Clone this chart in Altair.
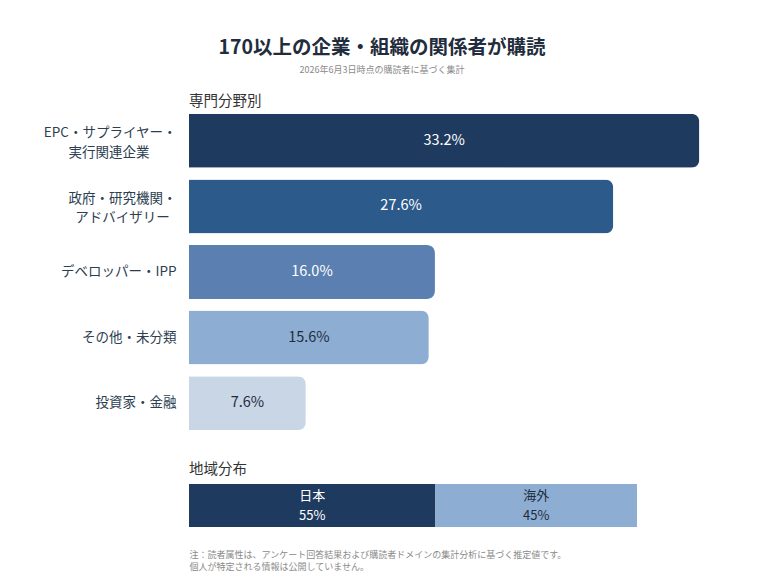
import altair as alt
import pandas as pd

FONT = "Noto Sans CJK JP"

# --- data ---
categories = [
    "EPC・サプライヤー・|実行関連企業\u3000\u3000\u2060",
    "政府・研究機関・|アドバイザリー\u2002\u2060",
    "デベロッパー・IPP",
    "その他・未分類",
    "投資家・金融",
]
shares = [33.2, 27.6, 16.0, 15.6, 7.6]
bar_palette = ["#1f3a5f", "#2c5a8a", "#5a7fb0", "#8daed2", "#c8d6e6"]

regions = ["日本", "海外"]
region_shares = [55, 45]
region_order = [0, 1]
region_palette = ["#1f3a5f", "#8daed2"]

footnote = [
    "注：読者属性は、アンケート回答結果および購読者ドメインの集計分析に基づく推定値です。",
    "個人が特定される情報は公開していません。",
]

# --- top chart: field breakdown ---
df = pd.DataFrame({"cat": categories, "share": shares})

y_enc = alt.Y(
    "cat:N",
    sort=categories,
    scale=alt.Scale(paddingInner=0, paddingOuter=0),
    axis=alt.Axis(
        title=None,
        labelExpr="split(datum.label, '|')",
        labelFont=FONT,
        labelFontSize=13.5,
        labelColor="#2c3e50",
        labelPadding=13,
        labelLineHeight=19.5,
        labelOffset={
            "condition": {"test": "indexof(datum.label, '|') >= 0", "value": -7.5},
            "value": 0,
        },
        ticks=False,
        domain=False,
        labelLimit=300,
    ),
)

base = alt.Chart(df).encode(y=y_enc)

bars = base.mark_bar(height=54, cornerRadiusEnd=8).encode(
    x=alt.X("share:Q", scale=alt.Scale(domain=[0, 35]), axis=None),
    color=alt.Color(
        "cat:N",
        sort=categories,
        scale=alt.Scale(domain=categories, range=bar_palette),
        legend=None,
    ),
)

bar_text = base.transform_calculate(
    mid="datum.share / 2",
    lbl="format(datum.share, '.1f') + '%'",
).mark_text(font=FONT, fontSize=14.5).encode(
    x=alt.X("mid:Q", scale=alt.Scale(domain=[0, 35]), axis=None),
    text="lbl:N",
    color=alt.condition("datum.share >= 16", alt.value("white"), alt.value("#1f2d3d")),
)

top = alt.layer(bars, bar_text).properties(
    width=538,
    height=328,
    title=alt.TitleParams(
        "専門分野別",
        anchor="start",
        frame="group",
        font=FONT,
        fontSize=14.5,
        fontWeight="normal",
        color="#333333",
        offset=-1,
    ),
)

# --- bottom chart: region split ---
rdf = pd.DataFrame({"region": regions, "share": region_shares, "ord": region_order})

rbase = alt.Chart(rdf).transform_stack(
    stack="share",
    as_=["s0", "s1"],
    groupby=[],
    sort=[alt.SortField("ord")],
).transform_calculate(
    mid="(datum.s0 + datum.s1) / 2",
    lbl="datum.region + '\\n' + datum.share + '%'",
    row="'all'",
)

x_axis = alt.Axis(
    title=footnote,
    labels=False,
    ticks=False,
    domain=False,
    grid=False,
    titleAnchor="start",
    titleAlign="left",
    titleFont=FONT,
    titleFontSize=9,
    titleFontWeight="normal",
    titleColor="#8a8a8a",
    titleLineHeight=12.5,
    titlePadding=23,
)

y_row = alt.Y("row:N", axis=None, scale=alt.Scale(paddingInner=0, paddingOuter=0))

rbars = rbase.mark_bar().encode(
    x=alt.X("s0:Q", scale=alt.Scale(domain=[0, 100]), axis=x_axis),
    x2="s1:Q",
    y=y_row,
    color=alt.Color(
        "region:N",
        sort=regions,
        scale=alt.Scale(domain=regions, range=region_palette),
        legend=None,
    ),
)

rtext = rbase.mark_text(font=FONT, fontSize=13, lineBreak="\n", lineHeight=20, dy=-10).encode(
    x=alt.X("mid:Q", scale=alt.Scale(domain=[0, 100]), axis=x_axis),
    y=y_row,
    text="lbl:N",
    color=alt.condition("datum.region == '日本'", alt.value("white"), alt.value("#1f2d3d")),
)

bottom = alt.layer(rbars, rtext).properties(
    width=448,
    height=43,
    title=alt.TitleParams(
        "地域分布",
        anchor="start",
        frame="group",
        font=FONT,
        fontSize=14.5,
        fontWeight="normal",
        color="#333333",
        offset=7,
    ),
)

chart = alt.vconcat(top, bottom, spacing=25).resolve_scale(
    color="independent"
).properties(
    title=alt.TitleParams(
        "170以上の企業・組織の関係者が購読",
        subtitle="2026年6月3日時点の購読者に基づく集計",
        anchor="middle",
        font=FONT,
        fontSize=19.5,
        fontWeight="bold",
        color="#1f2d3d",
        subtitleFont=FONT,
        subtitleFontSize=9,
        subtitleColor="#8a8a8a",
        subtitlePadding=7,
        offset=18,
        dx=-3,
    ),
    padding={"left": 42, "top": 38, "right": 10, "bottom": 10},
).configure(background="white").configure_view(stroke=None)

chart.save("out.html", embed_options={"renderer": "svg", "actions": False})
